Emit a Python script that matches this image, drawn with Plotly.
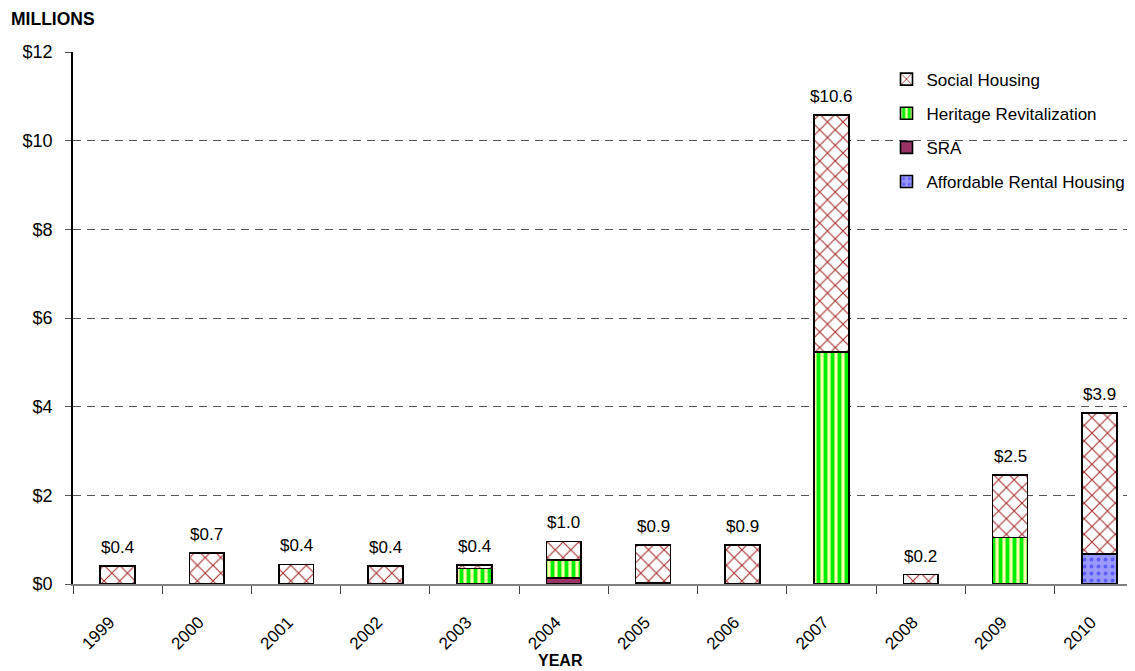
import plotly.graph_objects as go

years = ["1999", "2000", "2001", "2002", "2003", "2004", "2005", "2006", "2007", "2008", "2009", "2010"]
social_housing = [0.40, 0.70, 0.44, 0.40, 0.08, 0.42, 0.86, 0.88, 5.35, 0.21, 1.41, 3.18]
heritage_revitalization = [None, None, None, None, 0.35, 0.41, None, None, 5.23, None, 1.05, None]
sra = [None, None, None, None, None, 0.13, 0.02, None, None, None, None, None]
affordable_rental = [None, None, None, None, None, None, None, None, None, None, None, 0.68]
y_ticks = [0, 2, 4, 6, 8, 10, 12]
y_tick_labels = ["$0", "$2", "$4", "$6", "$8", "$10", "$12"]

def v(x):
    return x or 0.0

totals = [v(a) + v(b) + v(c) + v(d) for a, b, c, d in zip(social_housing, heritage_revitalization, sra, affordable_rental)]
total_labels = ["$%.1f" % t for t in totals]

FONT = "Liberation Sans, Arial, sans-serif"
outline = dict(color="black", width=1.6)
bw = 0.39

fig = go.Figure()
fig.add_trace(go.Bar(
    x=years, y=sra, name="SRA", width=bw, legendrank=3, legendgroup="c",
    marker=dict(color="#993366", line=outline),
))
fig.add_trace(go.Bar(
    x=years, y=affordable_rental, name="Affordable Rental Housing", width=bw, legendrank=4, legendgroup="d",
    marker=dict(color="#9999ff", line=outline,
                pattern=dict(shape=".", fgcolor="#2222ff", bgcolor="#9999ff", size=7, solidity=0.25)),
))
fig.add_trace(go.Bar(
    x=years, y=heritage_revitalization, name="Heritage Revitalization", width=bw, legendrank=2, legendgroup="b",
    marker=dict(color="#00ff00", line=outline,
                pattern=dict(shape="|", fgcolor="#00ee00", bgcolor="#ffffb0", size=7, solidity=0.55,
                             fillmode="replace")),
))
fig.add_trace(go.Bar(
    x=years, y=social_housing, name="Social Housing", width=bw, legendrank=1, legendgroup="a",
    marker=dict(color="white", line=outline,
                pattern=dict(shape="x", fgcolor="#a83232", bgcolor="white", size=11, solidity=0.2,
                             fillmode="replace")),
))

annotations = [dict(x=i, y=t, xref="x", yref="y", text=lab, showarrow=False,
                    xanchor="center", yanchor="bottom",
                    yshift=7, font=dict(family=FONT, size=17, color="black"))
               for i, (t, lab) in enumerate(zip(totals, total_labels))]
annotations.append(dict(text="<b>MILLIONS</b>", xref="paper", yref="paper", x=-64/1062, y=1.0,
                        xanchor="left", yanchor="bottom", yshift=21, showarrow=False,
                        font=dict(family=FONT, size=17.5)))
annotations.append(dict(text="<b>YEAR</b>", xref="paper", yref="paper", x=0.4586, y=0.0,
                        xanchor="center", yanchor="middle", yshift=-76, showarrow=False,
                        font=dict(family=FONT, size=16)))

fig.update_layout(
    width=1135, height=671,
    barmode="stack",
    paper_bgcolor="white", plot_bgcolor="white",
    margin=dict(l=65, r=8, t=44, b=95),
    font=dict(family=FONT, size=17, color="black"),
    showlegend=True,
    legend=dict(x=0.766, y=0.982, xanchor="left", yanchor="top", bgcolor="rgba(0,0,0,0)",
                traceorder="grouped", font=dict(family=FONT, size=17), tracegroupgap=9, itemwidth=30),
    xaxis=dict(
        type="category", range=[-0.5, 11.4], showgrid=False,
        showline=True, linecolor="#808080", linewidth=1.5,
        ticks="outside", tickson="boundaries", ticklen=8, tickcolor="#444",
        tickangle=-45, tickfont=dict(family=FONT, size=17),
        ticklabelstandoff=20, ticklabelshift=-8, automargin=False,
    ),
    yaxis=dict(
        range=[0, 12], tickvals=y_ticks, ticktext=y_tick_labels,
        showgrid=True, gridcolor="#555", griddash="8px,6px", gridwidth=1,
        showline=True, linecolor="black", linewidth=1.5,
        ticks="outside", ticklen=6, tickcolor="#555", ticklabelstandoff=9,
        tickfont=dict(family=FONT, size=18), zeroline=False,
    ),
    annotations=annotations,
)

fig.write_html("out.html")
